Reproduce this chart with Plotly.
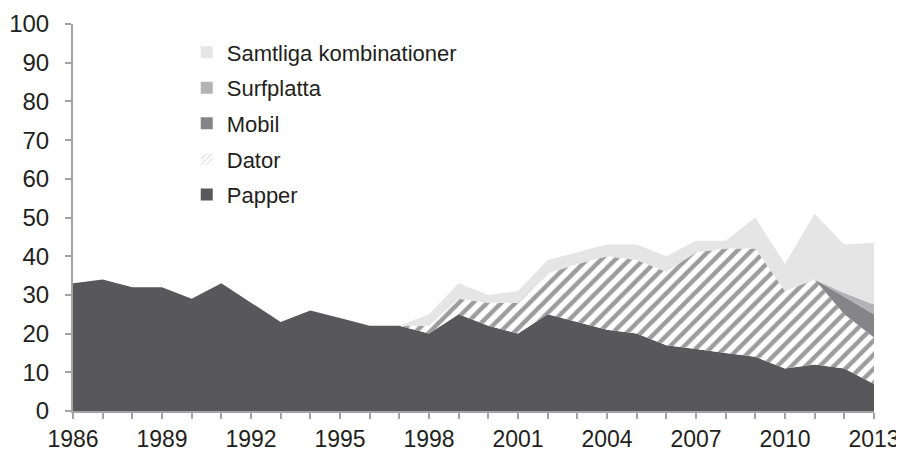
import plotly.graph_objects as go

years = list(range(1986, 2014))

papper = [33, 34, 32, 32, 29, 33, 28, 23, 26, 24, 22, 22, 20, 25, 22, 20, 25, 23, 21, 20, 17, 16, 15, 14, 11, 12, 11, 7]
dator = [0, 0, 0, 0, 0, 0, 0, 0, 0, 0, 0, 0, 2, 4, 6, 8, 10.5, 15, 19, 19, 19, 25, 27, 28, 20, 22, 14, 12]
mobil = [0] * 26 + [4.5, 6]
surfplatta = [0] * 26 + [1, 2.5]
samtliga = [0, 0, 0, 0, 0, 0, 0, 0, 0, 0, 0, 0, 3, 4, 2, 3, 3.5, 3, 3, 4, 4, 3, 2, 8, 7, 17, 12.5, 16]

series_names = ["Papper", "Dator", "Mobil", "Surfplatta", "Samtliga kombinationer"]
x_labels = [str(y) if (y - 1986) % 3 == 0 else "" for y in years]

C_PAPPER = "#58585a"
C_STRIPE = "#9c9c9c"
C_MOBIL = "#858587"
C_SURF = "#b3b3b5"
C_SAMT = "#e5e5e6"

fig = go.Figure()

def area(y, name, color, pattern=None):
    kw = dict(x=years, y=y, name=name, mode="none", stackgroup="one",
              fillcolor=color, showlegend=False, hoverinfo="x+y+name")
    if pattern:
        kw["fillpattern"] = pattern
    fig.add_trace(go.Scatter(**kw))

area(papper, series_names[0], C_PAPPER)
area(dator, series_names[1], "white",
     dict(shape="/", bgcolor="white", fgcolor=C_STRIPE, size=10, solidity=0.45, fillmode="replace"))
area(mobil, series_names[2], C_MOBIL)
area(surfplatta, series_names[3], C_SURF)
area(samtliga, series_names[4], C_SAMT)

# legend entries (square icons)
legend_items = [
    (series_names[4], C_SAMT, None),
    (series_names[3], C_SURF, None),
    (series_names[2], C_MOBIL, None),
    (series_names[1], "white", dict(shape="/", bgcolor="white", fgcolor="#b8b8b8", size=5, solidity=0.25)),
    (series_names[0], C_PAPPER, None),
]
for i, (nm, col, pat) in enumerate(legend_items):
    marker = dict(color=col, line=dict(width=0))
    if pat:
        marker["pattern"] = pat
    fig.add_trace(go.Bar(x=[None], y=[None], name=nm, marker=marker,
                         legendgroup="g%d" % i, legendrank=i + 1, showlegend=True))

# page body has an 8px margin, so the figure is 896x444 to fill the 904x452 window
fig.update_layout(
    width=896, height=444,
    margin=dict(l=65, r=30, t=16, b=41),
    paper_bgcolor="white", plot_bgcolor="white",
    font=dict(family="Liberation Sans, Arial, sans-serif", color="#231f20"),
    showlegend=True,
    legend=dict(x=0.142, y=0.981, xanchor="left", yanchor="top",
                bgcolor="rgba(0,0,0,0)", font=dict(size=22, color="#231f20"),
                tracegroupgap=4, itemwidth=30),
)
fig.update_xaxes(
    type="linear", range=[1986, 2013], tickmode="array", tickvals=years, ticktext=x_labels,
    showgrid=False, zeroline=False, showline=True, linecolor="#a3a3a3", linewidth=2,
    ticks="outside", ticklen=6, tickcolor="#a3a3a3", tickwidth=1.5,
    tickfont=dict(size=23), tickangle=0, ticklabelstandoff=0, automargin=False,
)
fig.update_yaxes(
    range=[0, 100], dtick=10, tick0=0, showgrid=False, zeroline=False,
    showline=True, linecolor="#a3a3a3", linewidth=2,
    ticks="outside", ticklen=6, tickcolor="#a3a3a3", tickwidth=1.5,
    tickfont=dict(size=24), ticklabelstandoff=11, automargin=False,
)

fig.write_html("out.html")
